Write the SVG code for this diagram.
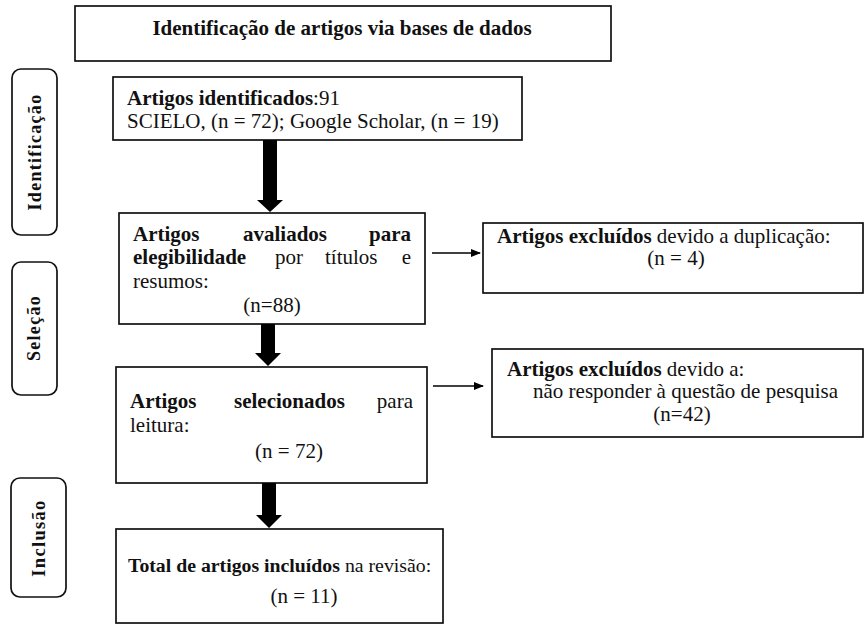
<svg xmlns="http://www.w3.org/2000/svg" width="865" height="625" viewBox="0 0 865 625">
<style>
.box{fill:#fff;stroke:#111;stroke-width:1.7}
.side{fill:#fff;stroke:#111;stroke-width:1.7}
text{font-family:"Liberation Serif","Times New Roman",serif;font-size:21px;fill:#111}
.b{font-weight:bold}
.lab{font-weight:bold;font-size:18px;letter-spacing:1.3px}
.thick{fill:#000}
.thin{stroke:#000;stroke-width:1.7;fill:none}
</style>
<defs>
<marker id="ah" markerWidth="10" markerHeight="10" refX="9" refY="5" orient="auto" markerUnits="userSpaceOnUse">
<path d="M0,1 L10,5 L0,9 Z" fill="#000"/>
</marker>
</defs>
<rect width="865" height="625" fill="#fff"/>

<g id="title">
<rect class="box" x="75" y="6" width="536" height="55"/>
<text x="342" y="35" text-anchor="middle" class="b">Identificação de artigos via bases de dados</text>
</g>

<g id="stage-identificacao">
<rect class="side" x="12" y="69" width="45" height="166" rx="9"/>
<text class="lab" x="41" y="152" text-anchor="middle" transform="rotate(-90 41 152)">Identificação</text>
</g>
<g id="stage-selecao">
<rect class="side" x="12" y="262" width="45" height="133" rx="9"/>
<text class="lab" x="40" y="328" text-anchor="middle" transform="rotate(-90 40 328)">Seleção</text>
</g>
<g id="stage-inclusao">
<rect class="side" x="11" y="478" width="55" height="119" rx="9"/>
<text class="lab" x="45" y="538" text-anchor="middle" transform="rotate(-90 45 538)" style="font-size:18.5px">Inclusão</text>
</g>

<g id="identificados">
<rect class="box" x="113" y="77" width="409" height="63"/>
<text x="127" y="105"><tspan class="b">Artigos identificados</tspan>:91</text>
<text x="127" y="128">SCIELO, (n = 72); Google Scholar, (n = 19)</text>
</g>

<g id="avaliados">
<rect class="box" x="119" y="213" width="306" height="111"/>
<text class="b" x="133" y="241">Artigos</text>
<text class="b" x="243" y="241">avaliados</text>
<text class="b" x="411" y="241" text-anchor="end">para</text>
<text class="b" x="133" y="264">elegibilidade</text>
<text x="275" y="264">por</text>
<text x="325" y="264">títulos</text>
<text x="411" y="264" text-anchor="end">e</text>
<text x="133" y="288">resumos:</text>
<text x="272" y="312" text-anchor="middle">(n=88)</text>
</g>

<g id="excluidos-duplicacao">
<rect class="box" x="483" y="223" width="380" height="70"/>
<text x="497" y="243"><tspan class="b">Artigos excluídos</tspan> devido a duplicação:</text>
<text x="676" y="265" text-anchor="middle">(n = 4)</text>
</g>

<g id="selecionados">
<rect class="box" x="116" y="367" width="311" height="116"/>
<text class="b" x="130" y="408">Artigos</text>
<text class="b" x="234" y="408">selecionados</text>
<text x="413" y="408" text-anchor="end">para</text>
<text x="130" y="432">leitura:</text>
<text x="289" y="458" text-anchor="middle">(n = 72)</text>
</g>

<g id="excluidos-questao">
<rect class="box" x="492" y="349" width="371" height="88"/>
<text x="507" y="376"><tspan class="b">Artigos excluídos</tspan> devido a:</text>
<text x="533" y="398">não responder à questão de pesquisa</text>
<text x="682" y="421" text-anchor="middle">(n=42)</text>
</g>

<g id="incluidos">
<rect class="box" x="116" y="529" width="327" height="94"/>
<text x="128" y="572" style="font-size:19.8px"><tspan class="b">Total de artigos incluídos</tspan> na revisão:</text>
<text x="304" y="603" text-anchor="middle">(n = 11)</text>
</g>

<g id="connectors">
<polygon class="thick" points="263,140 277,140 277,200 283,200 270,212 257,200 263,200"/>
<polygon class="thick" points="261,324 275,324 275,353 281,353 268,366 255,353 261,353"/>
<polygon class="thick" points="262,483 276,483 276,515 282,515 269,528 256,515 262,515"/>
<line class="thin" x1="432" y1="253" x2="480" y2="253" marker-end="url(#ah)"/>
<line class="thin" x1="433" y1="386" x2="483" y2="386" marker-end="url(#ah)"/>
</g>
</svg>
